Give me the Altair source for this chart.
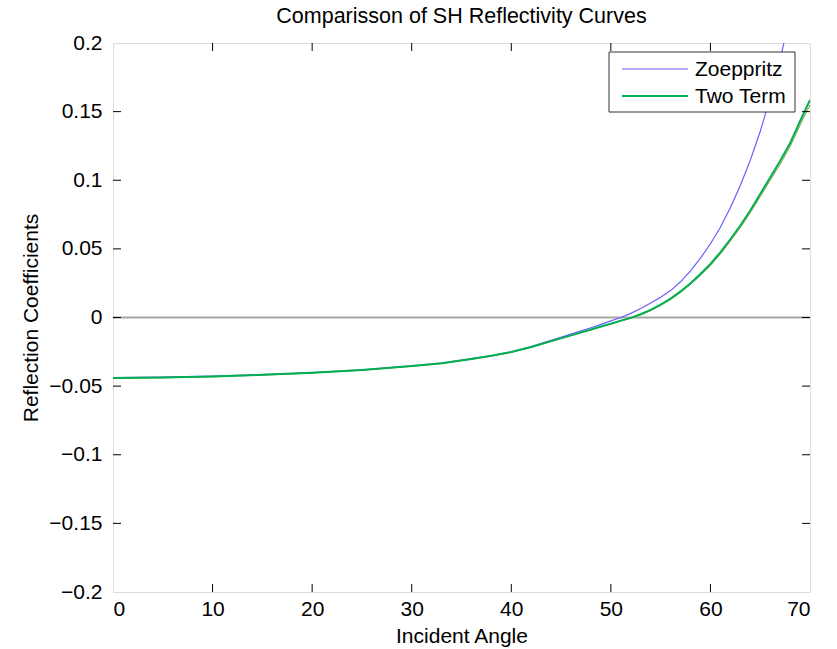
import altair as alt
import pandas as pd

# Incident angles (degrees) and reflection coefficients
angles_z = [0, 5, 10, 15, 20, 25, 30, 33, 36, 38, 40, 42, 44, 46, 48, 49, 50, 51, 52, 53, 54, 55, 56, 57, 58,
            59, 60, 61, 62, 63, 64, 65, 66, 67, 68, 69, 70]
zoeppritz = [-0.0437, -0.0434, -0.0427, -0.0416, -0.0402, -0.0381, -0.0352, -0.0332, -0.0300, -0.0277, -0.0250,
             -0.0212, -0.0166, -0.0121, -0.0075, -0.0050, -0.0025, 0.0000, 0.0030, 0.0065, 0.0105, 0.0148,
             0.0196, 0.0260, 0.0340, 0.0432, 0.0537, 0.0657, 0.0800, 0.0962, 0.1145, 0.1355, 0.1600, 0.1880,
             0.2200, 0.2580, 0.3000]

angles_t = [0, 5, 10, 15, 20, 25, 30, 33, 36, 38, 40, 42, 44, 46, 48, 49, 50, 51, 52, 53, 54, 55, 56, 57, 58,
            59, 60, 61, 62, 63, 64, 65, 66, 67, 68, 69, 70]
two_term = [-0.0440, -0.0437, -0.0430, -0.0418, -0.0403, -0.0382, -0.0354, -0.0334, -0.0302, -0.0279, -0.0252,
            -0.0215, -0.0172, -0.0130, -0.0088, -0.0066, -0.0045, -0.0023, -0.0003, 0.0024, 0.0055, 0.0094,
            0.0138, 0.0190, 0.0250, 0.0317, 0.0390, 0.0475, 0.0570, 0.0670, 0.0780, 0.0900, 0.1020, 0.1140,
            0.1270, 0.1430, 0.1585]
approx = [-0.0442, -0.0439, -0.0432, -0.0420, -0.0405, -0.0384, -0.0356, -0.0336, -0.0304, -0.0281, -0.0254,
          -0.0217, -0.0174, -0.0132, -0.0090, -0.0068, -0.0047, -0.0026, -0.0006, 0.0020, 0.0050, 0.0088,
          0.0131, 0.0182, 0.0241, 0.0307, 0.0379, 0.0462, 0.0556, 0.0654, 0.0763, 0.0880, 0.0999, 0.1117,
          0.1245, 0.1400, 0.1550]

series_names = ["Zoeppritz", "Two Term"]
series_colors = ["#6b5cff", "#00b050"]
series_widths = [1.2, 2]

x_ticks = [0, 10, 20, 30, 40, 50, 60, 70]
y_ticks = [-0.2, -0.15, -0.1, -0.05, 0, 0.05, 0.1, 0.15, 0.2]

W, H = 697, 549
TICK = 8
FONT = "Liberation Sans"
FS = 21

df = pd.DataFrame({
    "angle": angles_z + angles_t,
    "value": zoeppritz + two_term,
    "series": [series_names[0]] * len(angles_z) + [series_names[1]] * len(angles_t),
})
df_approx = pd.DataFrame({"angle": angles_t, "value": approx})

xs = alt.Scale(domain=[0, 70], nice=False, zero=False)
ys = alt.Scale(domain=[-0.2, 0.2], nice=False, zero=False)
cs = alt.Scale(domain=series_names, range=series_colors)
ws = alt.Scale(domain=series_names, range=series_widths)

x_axis = alt.Axis(values=x_ticks, title="Incident Angle", grid=False, domain=False, ticks=False,
                  labelFontSize=FS, titleFontSize=FS, labelPadding=6, titlePadding=6,
                  labelColor="black", titleColor="black", titleFontWeight="normal", labelFont=FONT, titleFont=FONT)
y_axis = alt.Axis(values=y_ticks, title="Reflection Coefficients", grid=False, domain=False, ticks=False,
                  format="~g", labelFontSize=FS, titleFontSize=FS, labelPadding=11, titlePadding=7,
                  labelColor="black", titleColor="black", titleFontWeight="normal", labelFont=FONT, titleFont=FONT)

zero_line = alt.Chart(pd.DataFrame({"y": [0]})).mark_rule(color="#a6a6a6", strokeWidth=2).encode(
    y=alt.Y("y:Q", scale=ys, axis=y_axis)
)

approx_line = alt.Chart(df_approx).mark_line(color="#8c9a3c", strokeWidth=1, clip=True).encode(
    x=alt.X("angle:Q", scale=xs, axis=x_axis),
    y=alt.Y("value:Q", scale=ys, axis=y_axis),
)

lines = alt.Chart(df).mark_line(clip=True).encode(
    x=alt.X("angle:Q", scale=xs, axis=x_axis),
    y=alt.Y("value:Q", scale=ys, axis=y_axis),
    color=alt.Color("series:N", scale=cs, legend=None),
    strokeWidth=alt.StrokeWidth("series:N", scale=ws, legend=None),
    order=alt.Order("angle:Q"),
)

# Inward ticks on all four sides (MATLAB style box)
xt = pd.DataFrame({"t": x_ticks[1:-1]})
yt = pd.DataFrame({"t": y_ticks[1:-1]})
tick_bottom = alt.Chart(xt).mark_rule(color="black").encode(x=alt.X("t:Q", scale=xs), y=alt.value(H - TICK), y2=alt.value(H))
tick_top = alt.Chart(xt).mark_rule(color="black").encode(x=alt.X("t:Q", scale=xs), y=alt.value(0), y2=alt.value(TICK))
tick_left = alt.Chart(yt).mark_rule(color="black").encode(y=alt.Y("t:Q", scale=ys), x=alt.value(0), x2=alt.value(TICK))
tick_right = alt.Chart(yt).mark_rule(color="black").encode(y=alt.Y("t:Q", scale=ys), x=alt.value(W - TICK), x2=alt.value(W))

# Legend box (top-right corner of the plot)
LX0, LX1, LY0, LY1 = 496, 682, 9, 69
ROW_Y = [26, 53]
leg_df = pd.DataFrame({"series": series_names})
legend_box = alt.Chart(pd.DataFrame({"a": [0]})).mark_rect(fill="white", stroke="#333333", strokeWidth=1).encode(
    x=alt.value(LX0), x2=alt.value(LX1), y=alt.value(LY0), y2=alt.value(LY1)
)
legend_layers = [legend_box]
for i, name in enumerate(series_names):
    base = alt.Chart(leg_df).transform_filter(alt.datum.series == name)
    legend_layers.append(base.mark_rule().encode(
        x=alt.value(509), x2=alt.value(575), y=alt.value(ROW_Y[i]),
        color=alt.Color("series:N", scale=cs, legend=None),
        strokeWidth=alt.StrokeWidth("series:N", scale=ws, legend=None),
    ))
    legend_layers.append(base.mark_text(align="left", baseline="middle", font=FONT, fontSize=FS,
                                        color="black").encode(
        x=alt.value(582), y=alt.value(ROW_Y[i] + 1), text="series:N"
    ))

chart = alt.layer(zero_line, approx_line, lines, tick_bottom, tick_top, tick_left, tick_right,
                  *legend_layers).properties(
    width=W, height=H,
    title=alt.TitleParams("Comparisson of SH Reflectivity Curves", fontSize=21.5, font=FONT,
                          fontWeight="normal", color="black", anchor="middle", offset=5),
    autosize=alt.AutoSizeParams(type="none"),
    padding={"left": 113, "top": 43, "right": 27, "bottom": 57},
).configure_view(stroke="black", strokeWidth=1).configure(background="white")

chart.save("out.html", embed_options={"renderer": "svg", "actions": False})
